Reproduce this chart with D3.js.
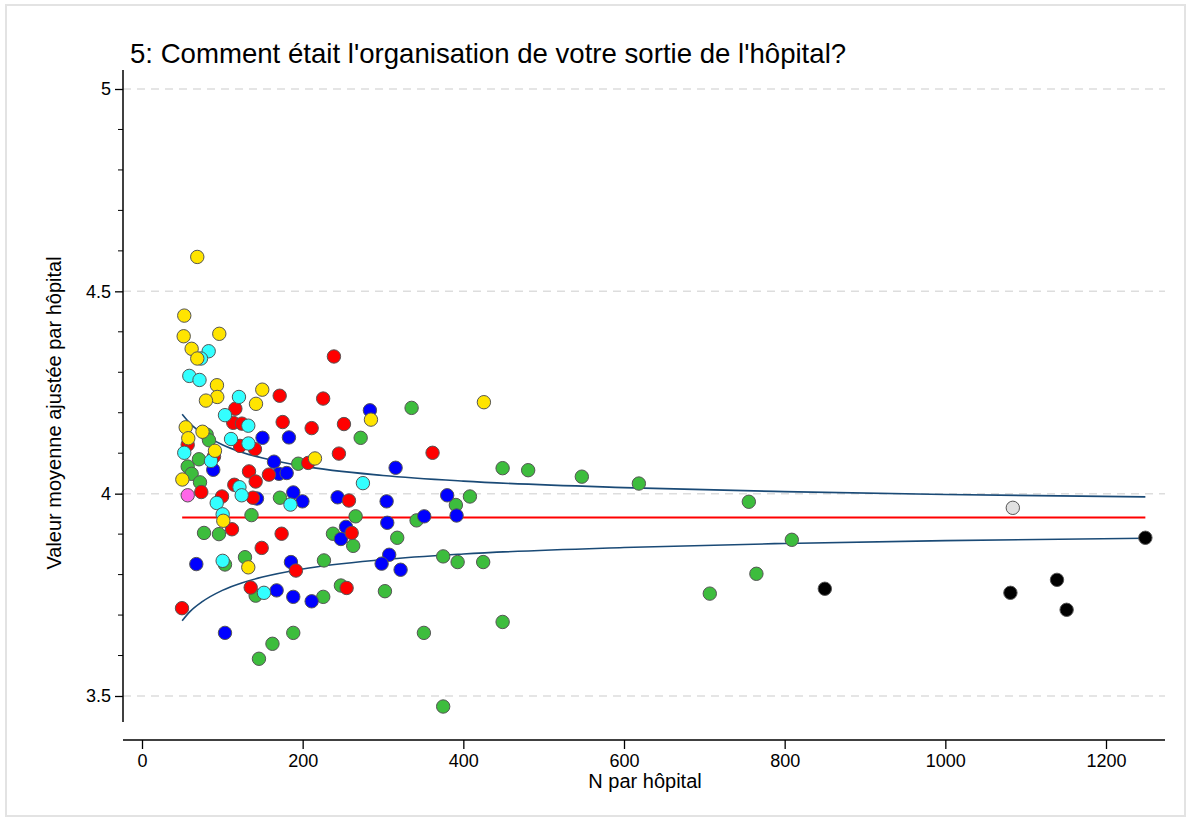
<!DOCTYPE html>
<html>
<head>
<meta charset="utf-8">
<script src="https://cdn.jsdelivr.net/npm/d3@7"></script>
<style>
  body { margin: 0; background: #fff; }
  svg { display: block; font-family: "Liberation Sans", Arial, sans-serif; }
</style>
</head>
<body>
<div id="chart"></div>
<script>
// [N par hôpital, valeur moyenne ajustée]
const greenPts = [
  [80.5,4.146],[83.4,4.132],[70.9,4.085],[56.9,4.067],[61.8,4.049],[72.2,4.028],
  [77.2,3.903],[95.8,3.900],[136.3,3.947],[128.2,3.843],[103.3,3.825],[141.5,3.748],
  [145.6,3.592],[162.4,3.629],[188.3,3.656],[171.7,3.990],[194.5,4.074],[226.5,3.835],
  [225.6,3.745],[237.7,3.901],[262.9,3.871],[247.6,3.773],[265.9,3.944],[272.2,4.138],
  [302.4,3.759],[335.6,4.212],[390.7,3.972],[408.2,3.993],[341.8,3.934],[317.7,3.891],
  [374.9,3.845],[392.9,3.831],[424.7,3.831],[350.9,3.656],[374.9,3.474],[448.9,3.683],
  [448.9,4.063],[480.7,4.058],[547.5,4.042],[618.5,4.025],[755.4,3.980],[706.8,3.753],
  [764.8,3.802],[808.9,3.886]
];
const bluePts = [
  [150.0,4.138],[182.9,4.139],[88.7,4.059],[164.3,4.079],[170.5,4.049],[180.1,4.051],
  [143.1,3.988],[188.3,4.003],[199.7,3.981],[243.5,3.991],[304.5,3.981],[283.7,4.206],
  [315.7,4.064],[253.9,3.918],[247.6,3.888],[305.3,3.928],[307.7,3.849],[298.3,3.827],
  [321.9,3.812],[185.4,3.831],[167.6,3.761],[188.3,3.745],[211.2,3.734],[67.6,3.826],
  [103.3,3.656],[379.9,3.996],[351.3,3.944],[391.6,3.946]
];
const redPts = [
  [116.2,4.210],[113.6,4.175],[124.4,4.173],[122.0,4.118],[140.6,4.110],[56.9,4.121],
  [89.6,4.092],[73.8,4.004],[99.6,3.993],[114.9,4.022],[133.2,4.055],[141.5,4.030],
  [158.0,4.047],[138.1,3.990],[112.0,3.912],[149.0,3.866],[173.8,3.901],[135.3,3.768],
  [49.8,3.717],[191.6,3.810],[171.4,4.242],[225.5,4.235],[238.9,4.339],[175.1,4.177],
  [211.2,4.162],[251.4,4.172],[245.1,4.099],[206.9,4.076],[257.6,3.983],[261.0,3.903],
  [254.7,3.767],[361.7,4.101]
];
const cyanPts = [
  [83.0,4.352],[73.4,4.334],[58.9,4.291],[71.6,4.281],[120.7,4.239],[103.3,4.194],
  [132.3,4.168],[110.8,4.135],[132.5,4.124],[52.6,4.101],[85.9,4.081],[121.3,4.016],
  [124.1,3.996],[93.0,3.977],[100.4,3.949],[100.4,3.834],[151.8,3.755],[184.8,3.973],
  [275.0,4.026]
];
const yellowPts = [
  [68.8,4.585],[52.6,4.440],[51.9,4.389],[96.2,4.395],[61.8,4.358],[68.8,4.334],
  [93.3,4.268],[93.7,4.239],[79.6,4.230],[149.7,4.257],[141.9,4.222],[54.4,4.164],
  [75.3,4.153],[57.6,4.137],[90.8,4.106],[50.2,4.035],[101.2,3.933],[132.3,3.818],
  [215.3,4.087],[285.0,4.183],[425.6,4.226]
];
const pinkPts = [[56.9,3.996]];
const grayPts = [[1084,3.965]];
const blackPts = [[850,3.765],[1081,3.755],[1139,3.787],[1151,3.713],[1249,3.891]];

// moyenne globale et limites
const meanValue = 3.941;
const meanRange = [50, 1249];
const limitN     = [50, 60, 75, 100, 125, 150, 200, 300, 400, 600, 800, 1000, 1249];
const limitUpper = [4.196, 4.173, 4.149, 4.121, 4.102, 4.088, 4.068, 4.045, 4.031, 4.015, 4.005, 3.998, 3.992];
const limitLower = [3.686, 3.709, 3.733, 3.761, 3.780, 3.794, 3.814, 3.837, 3.851, 3.867, 3.877, 3.884, 3.890];

const xTicks = [0, 200, 400, 600, 800, 1000, 1200];
const yTicks = [3.5, 4, 4.5, 5];
const yMinorTicks = [3.6, 3.7, 3.8, 3.9, 4.1, 4.2, 4.3, 4.4, 4.6, 4.7, 4.8, 4.9];

const titleText = "5: Comment était l'organisation de votre sortie de l'hôpital?";
const xTitle = "N par hôpital";
const yTitle = "Valeur moyenne ajustée par hôpital";

const W = 1191, H = 821;
const svg = d3.select("#chart").append("svg").attr("width", W).attr("height", H);

// cadre extérieur
svg.append("rect")
  .attr("x", 6).attr("y", 5).attr("width", W - 12).attr("height", H - 10)
  .attr("fill", "#fff").attr("stroke", "#e3e3e3").attr("stroke-width", 2);

const x = d3.scaleLinear().domain([0, 1200]).range([142, 1106]);
const y = d3.scaleLinear().domain([3.5, 5]).range([696, 89]);

const plotLeft = 123, plotRight = 1165, plotTop = 70, plotBottom = 722, xAxisY = 740;
const tickFont = 18, titleFont = 27.6, axisTitleFont = 20;

// grille
svg.append("g").selectAll("line").data(yTicks).enter().append("line")
  .attr("x1", plotLeft).attr("x2", plotRight)
  .attr("y1", d => y(d)).attr("y2", d => y(d))
  .attr("stroke", "#dddddd").attr("stroke-width", 1.5)
  .attr("stroke-dasharray", "8,6");

// axe y
const yAxis = svg.append("g").attr("transform", `translate(${plotLeft},0)`)
  .call(d3.axisLeft(y).tickValues(yTicks).tickSize(8).tickPadding(4)
    .tickFormat(d => String(d)));
yAxis.select(".domain").remove();
yAxis.attr("font-size", tickFont).attr("font-family", "Liberation Sans, Arial, sans-serif");
yAxis.selectAll(".tick line").attr("stroke", "#000").attr("stroke-width", 1.3);
yAxis.selectAll("text").attr("fill", "#000");
yAxis.append("g").selectAll("line").data(yMinorTicks).enter().append("line")
  .attr("x1", -5).attr("x2", 0)
  .attr("y1", d => y(d)).attr("y2", d => y(d))
  .attr("stroke", "#000").attr("stroke-width", 1);
yAxis.append("line").attr("x1", 0).attr("x2", 0)
  .attr("y1", plotTop).attr("y2", plotBottom)
  .attr("stroke", "#000").attr("stroke-width", 1.5);

// axe x
const xAxis = svg.append("g").attr("transform", `translate(0,${xAxisY})`)
  .call(d3.axisBottom(x).tickValues(xTicks).tickSize(9).tickPadding(5)
    .tickFormat(d => String(d)));
xAxis.select(".domain").remove();
xAxis.attr("font-size", tickFont).attr("font-family", "Liberation Sans, Arial, sans-serif");
xAxis.selectAll(".tick line").attr("stroke", "#000").attr("stroke-width", 1.3);
xAxis.selectAll("text").attr("fill", "#000");
xAxis.append("line").attr("x1", plotLeft).attr("x2", plotRight)
  .attr("y1", 0).attr("y2", 0)
  .attr("stroke", "#000").attr("stroke-width", 1.5);

// titres
svg.append("text").attr("x", 130).attr("y", 63)
  .attr("font-size", titleFont).attr("fill", "#000").text(titleText);
svg.append("text").attr("x", 645).attr("y", 788)
  .attr("text-anchor", "middle").attr("font-size", axisTitleFont).text(xTitle);
svg.append("text")
  .attr("transform", "translate(61,413) rotate(-90)")
  .attr("text-anchor", "middle").attr("font-size", axisTitleFont).text(yTitle);

// moyenne et limites
svg.append("line")
  .attr("x1", x(meanRange[0])).attr("x2", x(meanRange[1]))
  .attr("y1", y(meanValue)).attr("y2", y(meanValue))
  .attr("stroke", "#ff0000").attr("stroke-width", 2);

const limitLine = d3.line().x(d => x(d[0])).y(d => y(d[1])).curve(d3.curveMonotoneX);
[limitUpper, limitLower].forEach(function(vals){
  svg.append("path")
    .datum(limitN.map((n, i) => [n, vals[i]]))
    .attr("d", limitLine)
    .attr("fill", "none").attr("stroke", "#1a4a76").attr("stroke-width", 1.6);
});

// points par groupe
function drawPoints(pts, color){
  svg.append("g").selectAll("circle").data(pts).enter().append("circle")
    .attr("cx", d => x(d[0])).attr("cy", d => y(d[1])).attr("r", 6.7)
    .attr("fill", color).attr("stroke", "#555").attr("stroke-width", 1);
}
drawPoints(greenPts, "#3dbd3d");
drawPoints(bluePts, "#0000ff");
drawPoints(redPts, "#ff0000");
drawPoints(cyanPts, "#33ffff");
drawPoints(yellowPts, "#ffe400");
drawPoints(pinkPts, "#ff66e8");
drawPoints(grayPts, "#e0e0e0");
drawPoints(blackPts, "#000000");
</script>
</body>
</html>
